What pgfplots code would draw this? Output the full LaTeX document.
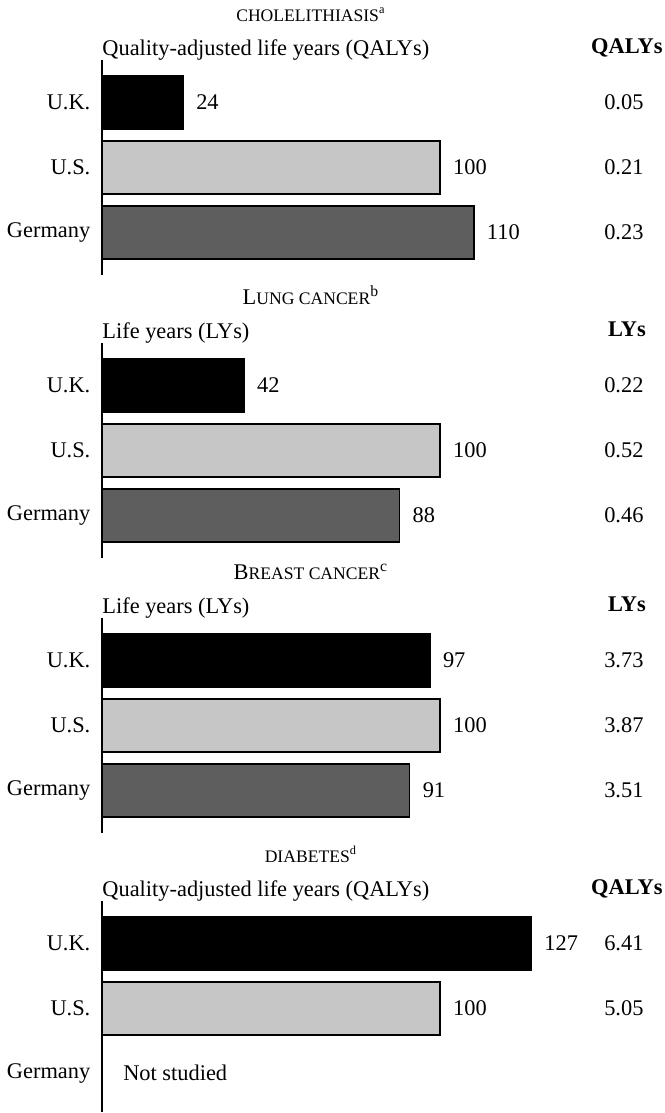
\documentclass[border=0pt]{standalone}
\usepackage{fontspec}
\setmainfont{Liberation Serif}
\usepackage{pgfplots}
\pgfplotsset{compat=1.18}

\definecolor{usgray}{HTML}{C6C6C6}
\definecolor{degray}{HTML}{5E5E5E}

\newcommand{\nf}{\fontsize{11.2}{13}\selectfont}
\newcommand{\scf}{\fontsize{8.8}{10}\selectfont}

\pgfplotsset{
  panel/.style={
    xbar, bar width=26.5pt, bar shift=0pt,
    x=1.69pt, y=32.5pt, y dir=reverse,
    xmin=0, xmax=170, ymin=-0.65, ymax=2.65,
    axis x line=none, axis y line*=left,
    axis line style={line width=0.6pt},
    ytick={0,1,2}, yticklabels={U.K.,U.S.,Germany},
    major tick length=0pt,
    tick label style={font=\nf},
    y tick label style={xshift=-2.3pt},
    clip=false, anchor=north west,
    nodes near coords, nodes near coords align=horizontal,
    every node near coord/.append style={font=\nf, xshift=2.8pt, black},
    /pgf/number format/assume math mode=true,
  },
  uk/.style={fill=black, draw=black, line width=0.9pt},
  us/.style={fill=usgray, draw=black, line width=0.9pt},
  de/.style={fill=degray, draw=black, line width=0.9pt},
}

\begin{document}
\begin{tikzpicture}

% Cholelithiasis
\begin{axis}[panel, at={(51pt,-30pt)}]
  \addplot[uk] coordinates {(24,0)};
  \addplot[us] coordinates {(100,1)};
  \addplot[de] coordinates {(110,2)};
  \node[anchor=base, yshift=19.5pt] at (axis cs:61.8,-0.65) {\scf CHOLELITHIASIS\textsuperscript{a}};
  \node[anchor=base west, inner sep=0pt, yshift=2.5pt, font=\nf] at (axis cs:0,-0.65) {Quality-adjusted life years (QALYs)};
  \node[anchor=base, yshift=3.5pt, font=\nf\bfseries] at (axis cs:155.3,-0.65) {QALYs};
  \node[font=\nf] at (axis cs:154.4,0) {0.05};
  \node[font=\nf] at (axis cs:154.4,1) {0.21};
  \node[font=\nf] at (axis cs:154.4,2) {0.23};
\end{axis}

% Lung cancer
\begin{axis}[panel, at={(51pt,-171.5pt)}]
  \addplot[uk] coordinates {(42,0)};
  \addplot[us] coordinates {(100,1)};
  \addplot[de] coordinates {(88,2)};
  \node[anchor=base, yshift=19.5pt] at (axis cs:61.8,-0.65) {\nf L{\scf UNG CANCER}\textsuperscript{b}};
  \node[anchor=base west, inner sep=0pt, yshift=2.5pt, font=\nf] at (axis cs:0,-0.65) {Life years (LYs)};
  \node[anchor=base, yshift=3.5pt, font=\nf\bfseries] at (axis cs:155.3,-0.65) {LYs};
  \node[font=\nf] at (axis cs:154.4,0) {0.22};
  \node[font=\nf] at (axis cs:154.4,1) {0.52};
  \node[font=\nf] at (axis cs:154.4,2) {0.46};
\end{axis}

% Breast cancer
\begin{axis}[panel, at={(51pt,-309pt)}]
  \addplot[uk] coordinates {(97,0)};
  \addplot[us] coordinates {(100,1)};
  \addplot[de] coordinates {(91,2)};
  \node[anchor=base, yshift=19.5pt] at (axis cs:61.8,-0.65) {\nf B{\scf REAST CANCER}\textsuperscript{c}};
  \node[anchor=base west, inner sep=0pt, yshift=2.5pt, font=\nf] at (axis cs:0,-0.65) {Life years (LYs)};
  \node[anchor=base, yshift=3.5pt, font=\nf\bfseries] at (axis cs:155.3,-0.65) {LYs};
  \node[font=\nf] at (axis cs:154.4,0) {3.73};
  \node[font=\nf] at (axis cs:154.4,1) {3.87};
  \node[font=\nf] at (axis cs:154.4,2) {3.51};
\end{axis}

% Diabetes
\begin{axis}[panel, at={(51pt,-450.5pt)}, ymax=2.6]
  \addplot[uk] coordinates {(127,0)};
  \addplot[us] coordinates {(100,1)};
  \node[anchor=base, yshift=19.5pt] at (axis cs:61.8,-0.65) {\scf DIABETES\textsuperscript{d}};
  \node[anchor=base west, inner sep=0pt, yshift=2.5pt, font=\nf] at (axis cs:0,-0.65) {Quality-adjusted life years (QALYs)};
  \node[anchor=base, yshift=3.5pt, font=\nf\bfseries] at (axis cs:155.3,-0.65) {QALYs};
  \node[font=\nf] at (axis cs:154.4,0) {6.41};
  \node[font=\nf] at (axis cs:154.4,1) {5.05};
  \node[anchor=west, font=\nf] at (axis cs:4.2,2) {Not studied};
\end{axis}

\pgfresetboundingbox
\path[use as bounding box] (0,0) rectangle (332pt,-556.5pt);
\end{tikzpicture}
\end{document}
